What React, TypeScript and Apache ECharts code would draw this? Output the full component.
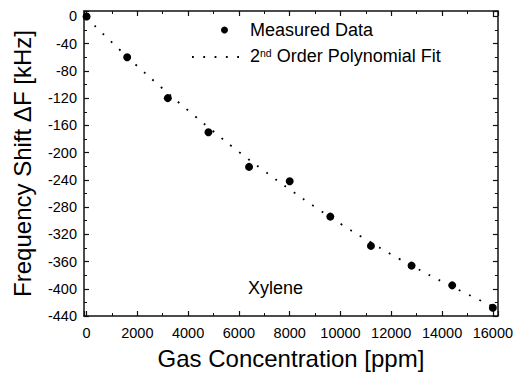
import React, { useEffect, useRef } from 'react';
import * as echarts from 'echarts';

const measuredX = [0, 1600, 3200, 4800, 6400, 8000, 9600, 11200, 12800, 14400, 16000];
const measuredY = [0, -60, -120, -170, -221, -242, -294, -337, -366, -395, -428];

const fitX = [0, 1000, 2000, 3000, 4000, 5000, 6000, 7000, 8000, 9000, 10000, 11000, 12000, 13000, 14000, 15000, 16000];
const fitY = [-2, -38, -73, -106, -138, -169, -199, -227, -254, -280, -304.5, -327.5, -349.5, -370, -389.5, -408, -426];

const xTitle = 'Gas Concentration [ppm]';
const yTitle = 'Frequency Shift \u0394F [kHz]';
const legendMeasured = 'Measured Data';
const annotation = 'Xylene';

const FONT = '"Liberation Sans", Arial, Helvetica, sans-serif';
const INK = '#111';

export default function App() {
  const ref = useRef<HTMLDivElement>(null);

  useEffect(() => {
    if (!ref.current) return;
    const chart = echarts.init(ref.current, null, { renderer: 'svg' });

    const axisCommon = (interval: number, minorSplit: number) => ({
      type: 'value' as const,
      splitLine: { show: false },
      minorSplitLine: { show: false },
      axisLine: { show: true, onZero: false, lineStyle: { color: INK, width: 1.5 } },
      axisTick: { show: true, inside: true, length: 5, lineStyle: { color: INK, width: 1.2 } },
      minorTick: { show: true, splitNumber: minorSplit, length: 3, lineStyle: { color: INK, width: 1 } },
      minInterval: interval,
      maxInterval: interval,
    });

    const xLabelFmt = (v: number) => (v % 2000 === 0 ? String(v) : '');
    const yLabelFmt = (v: number) => (v % 40 === 0 ? String(v) : '');

    chart.setOption({
      animation: false,
      backgroundColor: '#fff',
      textStyle: { fontFamily: FONT },
      grid: { left: 84, right: 18, top: 11, bottom: 59, containLabel: false },
      xAxis: [
        {
          ...axisCommon(2000, 2),
          position: 'bottom',
          min: -100,
          max: 16200,
          splitNumber: 8,
          axisLabel: { show: true, fontSize: 14.5, margin: 9, color: '#000', fontFamily: FONT, formatter: xLabelFmt },
          name: xTitle,
          nameLocation: 'middle',
          nameGap: 30,
          nameTextStyle: { fontSize: 24, color: '#000', fontFamily: FONT },
        },
        {
          ...axisCommon(2000, 2),
          position: 'top',
          min: -100,
          max: 16200,
          splitNumber: 8,
          axisLabel: { show: false },
        },
      ],
      yAxis: [
        {
          ...axisCommon(40, 2),
          position: 'left',
          min: -440,
          max: 8,
          splitNumber: 11,
          axisLabel: { show: true, fontSize: 14.5, margin: 7, color: '#000', fontFamily: FONT, formatter: yLabelFmt },
          name: yTitle,
          nameLocation: 'middle',
          nameGap: 50,
          nameTextStyle: { fontSize: 24, color: '#000', fontFamily: FONT },
        },
        {
          ...axisCommon(40, 2),
          position: 'right',
          min: -440,
          max: 8,
          splitNumber: 11,
          axisLabel: { show: false },
        },
      ],
      series: [
        {
          name: '2nd Order Polynomial Fit',
          type: 'line',
          xAxisIndex: 0,
          yAxisIndex: 0,
          data: fitX.map((x, i) => [x, fitY[i]]),
          showSymbol: false,
          symbol: 'none',
          smooth: true,
          lineStyle: { color: '#000', width: 1.8, type: [1.8, 9.5] },
          z: 2,
        },
        {
          name: legendMeasured,
          type: 'scatter',
          xAxisIndex: 0,
          yAxisIndex: 0,
          data: measuredX.map((x, i) => [x, measuredY[i]]),
          symbol: 'circle',
          symbolSize: 8,
          itemStyle: { color: '#000', opacity: 1 },
          z: 3,
        },
      ],
      graphic: [
        { type: 'circle', shape: { cx: 224.5, cy: 30, r: 3.5 }, style: { fill: '#000' } },
        {
          type: 'line',
          shape: { x1: 192, y1: 57, x2: 247, y2: 57 },
          style: { stroke: '#000', lineWidth: 1.8, lineDash: [1.8, 9.5] },
        },
        {
          type: 'text',
          x: 250,
          y: 30,
          style: { text: legendMeasured, fontSize: 18, fontFamily: FONT, fill: '#000', verticalAlign: 'middle', align: 'left' },
        },
        {
          type: 'text',
          x: 250,
          y: 56,
          style: {
            text: '{a|2}{s|nd}{a| Order Polynomial Fit}',
            fontFamily: FONT,
            fill: '#000',
            verticalAlign: 'middle',
            align: 'left',
            rich: {
              a: { fontSize: 18, fontFamily: FONT, fill: '#000', verticalAlign: 'bottom' },
              s: { fontSize: 10.5, fontFamily: FONT, fill: '#000', verticalAlign: 'top' },
            },
          },
        },
        {
          type: 'text',
          x: 248,
          y: 288,
          style: { text: annotation, fontSize: 18, fontFamily: FONT, fill: '#000', verticalAlign: 'middle', align: 'left' },
        },
      ],
    });

    return () => chart.dispose();
  }, []);

  return <div ref={ref} style={{ width: 516, height: 375, position: 'absolute', left: 0, top: 0 }} />;
}
